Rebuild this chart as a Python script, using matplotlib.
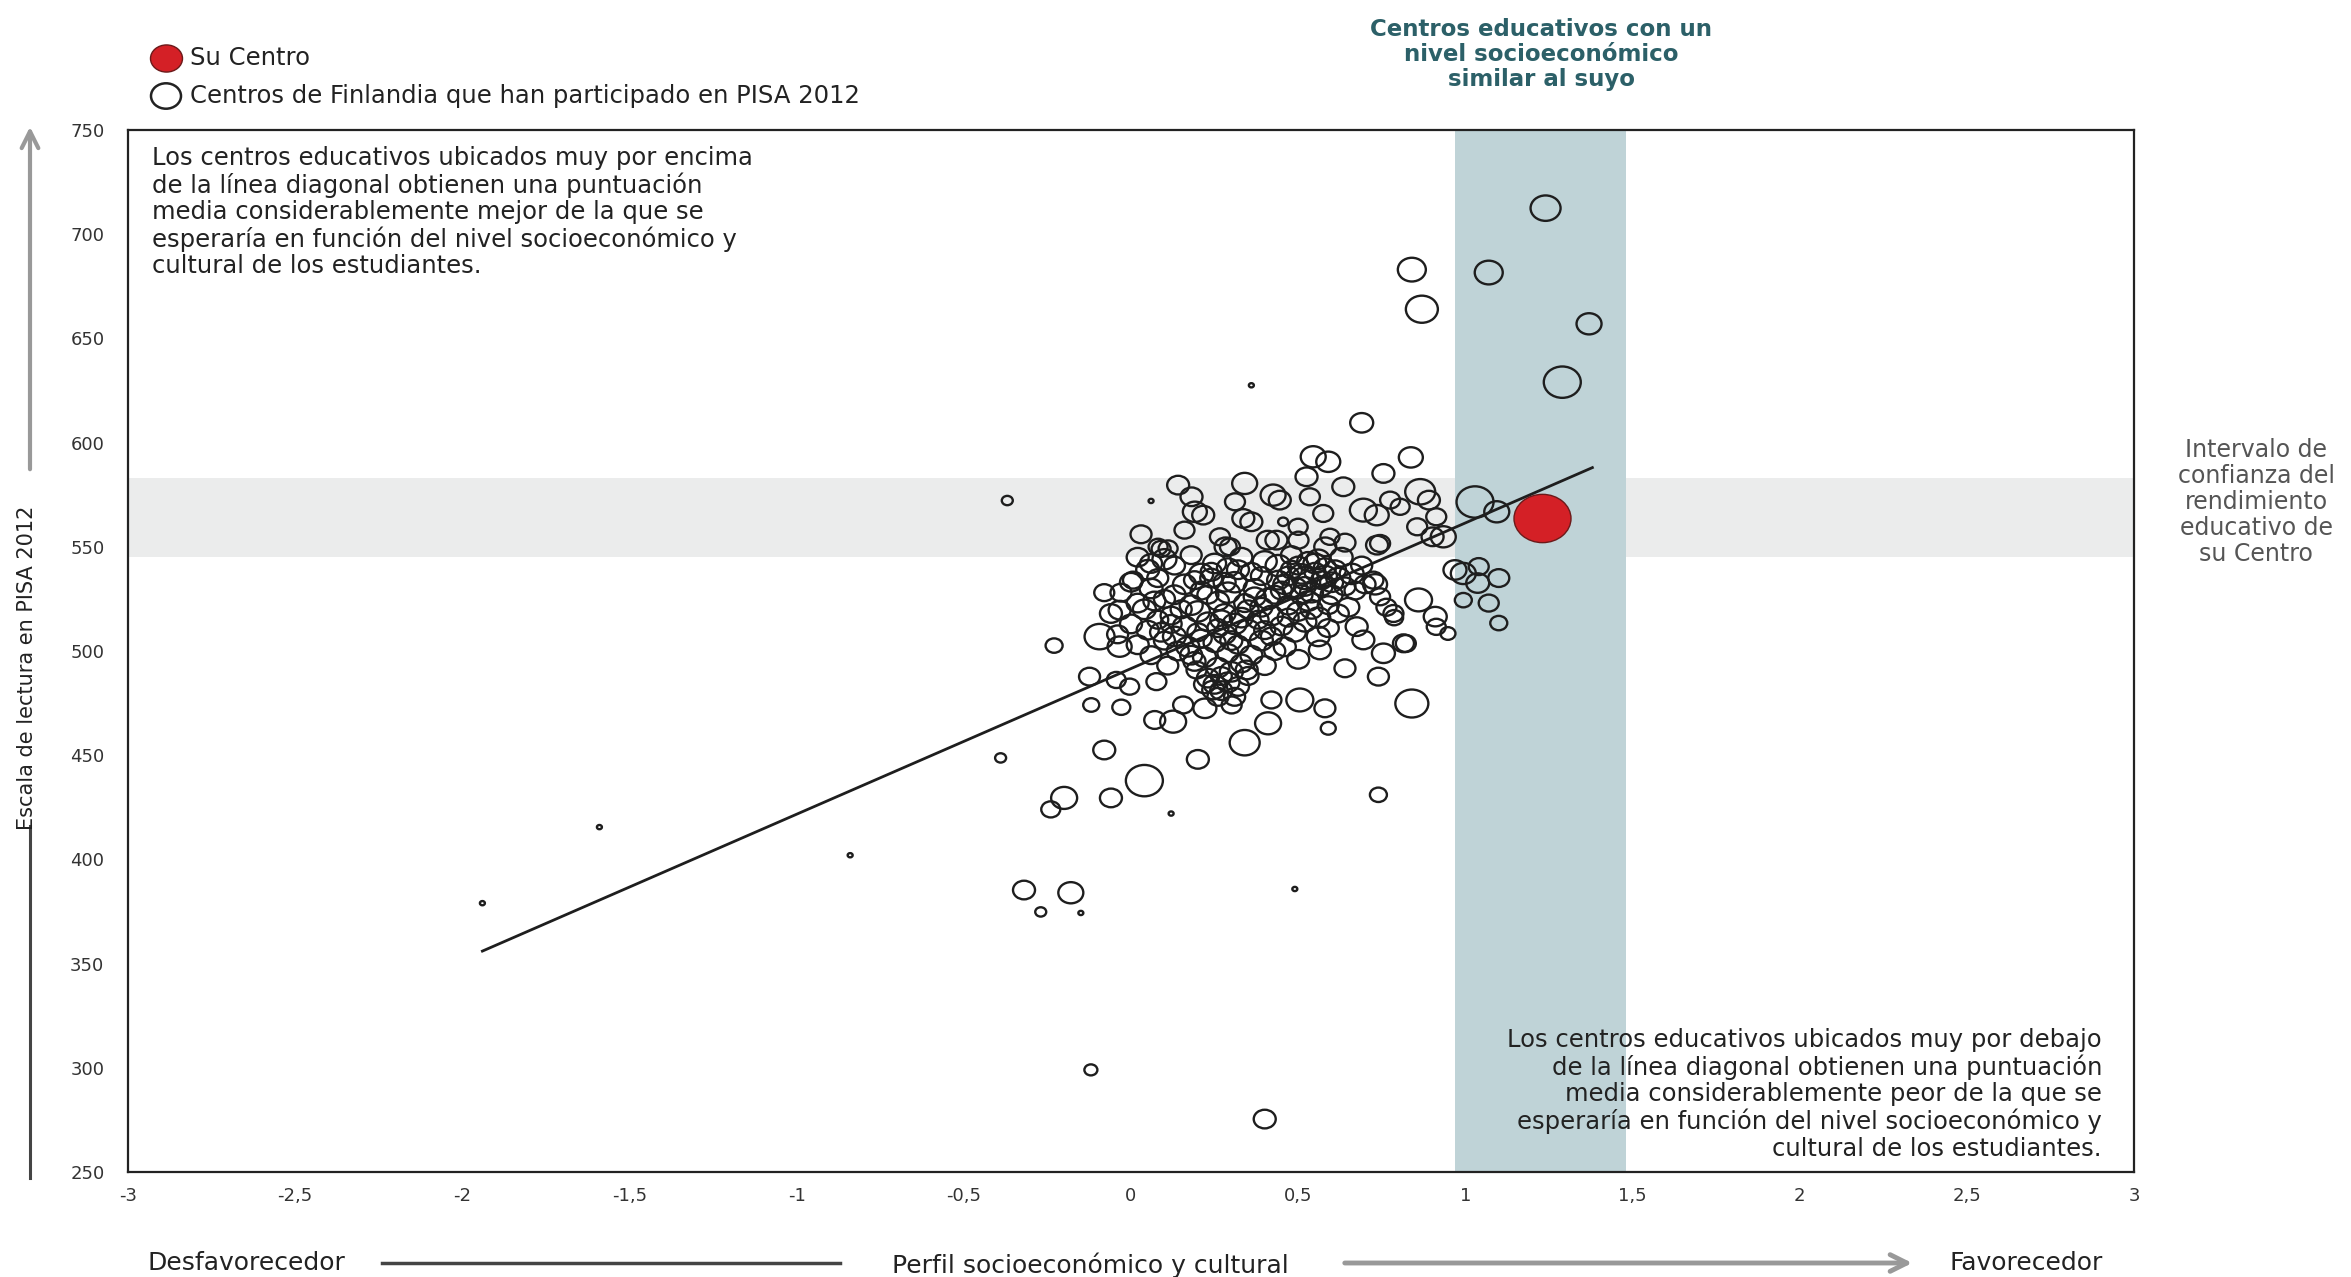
import numpy as np
import matplotlib
matplotlib.use('Agg')
import matplotlib.pyplot as plt
from matplotlib.path import Path
from matplotlib.transforms import Affine2D

# ---- datos (x = perfil socioeconomico, y = lectura, d = peso del centro) ----
su_centro = (1.23, 564, 57)
intervalo = (545, 583)          # intervalo de confianza de su centro
banda_ses = (0.97, 1.48)        # centros con nivel socioeconomico similar
linea_x = [-1.94, 1.38]
linea_y = [356, 588]

x_ticks = [-3, -2.5, -2, -1.5, -1, -0.5, 0, 0.5, 1, 1.5, 2, 2.5, 3]
x_etiquetas = ['-3', '-2,5', '-2', '-1,5', '-1', '-0,5', '0', '0,5', '1', '1,5', '2', '2,5', '3']
y_ticks = [250, 300, 350, 400, 450, 500, 550, 600, 650, 700, 750]

# centros aislados
atipicos = [
    (-1.94, 379, 5), (-1.59, 415.5, 5), (-0.84, 402, 5), (0.06, 572, 5), (0.12, 422, 5),
    (-0.15, 374.3, 5), (0.49, 385.8, 5), (0.36, 627.5, 5),
    (-0.37, 572.2, 11), (-0.39, 448.7, 11), (-0.27, 374.8, 11), (-0.12, 299, 13),
    (-0.23, 502.6, 17), (-0.32, 385.3, 22), (-0.18, 384, 25), (0.40, 275.4, 22),
    (-0.20, 429.5, 26), (-0.24, 424, 19), (-0.06, 429.5, 22), (0.04, 437.8, 37),
    (-0.08, 452.5, 22), (0.20, 448, 22), (0.34, 456, 30), (0.74, 431, 17),
    (0.84, 474.8, 33), (0.69, 609.5, 23),
]
superiores = [
    (1.24, 712.5, 30), (0.84, 683, 28), (1.07, 681.6, 28), (0.87, 664, 32),
    (1.37, 657, 25), (1.29, 629, 37),
]
# borde de la nube
borde = [
    (0.141, 579.6, 22), (0.181, 574, 22), (0.191, 566.8, 24), (0.216, 565.2, 22),
    (0.34, 580.4, 25), (0.311, 571.6, 20), (0.336, 563.6, 22), (0.36, 562, 22),
    (0.425, 574.8, 25), (0.445, 572.4, 22), (0.455, 562, 10),
    (0.545, 593.2, 25), (0.59, 590.8, 24), (0.525, 583.6, 22), (0.635, 578.8, 22),
    (0.535, 574, 20), (0.575, 566, 20), (0.5, 559.6, 19), (0.595, 554.8, 19), (0.435, 553.2, 22),
    (0.755, 585.2, 22), (0.695, 567.6, 27), (0.735, 565.2, 24), (0.775, 572.4, 20),
    (0.805, 569.2, 19), (0.837, 592.9, 24),
    (0.745, 551.6, 20), (0.266, 554.8, 20), (0.296, 550, 20), (0.081, 550, 19), (0.111, 549.2, 19),
    (0.09, 549, 19), (0.006, 534, 20), (-0.034, 519.6, 22), (0.725, 534, 20), (0.745, 526, 20),
    (0.785, 518, 20),
    (0.865, 576.4, 30), (0.891, 572.4, 22), (0.913, 564.4, 20), (1.029, 571.5, 37),
    (1.094, 566.8, 25), (0.856, 559.6, 20), (0.902, 554.8, 22), (0.934, 554.8, 25),
    (0.736, 550.8, 22), (0.581, 550, 22), (0.501, 553.2, 20), (0.409, 553.2, 22), (0.283, 550, 22),
    (0.73, 532, 24), (0.764, 521, 20), (0.787, 516, 18), (0.86, 524.5, 27), (0.91, 516.5, 23),
    (0.913, 511.6, 19), (0.948, 508.4, 15), (0.969, 538.9, 23), (0.994, 537.2, 25),
    (1.037, 532.6, 23), (1.04, 540.5, 20), (1.10, 535, 21), (1.07, 523, 20),
    (1.10, 513.4, 17), (0.994, 524.4, 17), (0.822, 503.6, 20),
    (-0.094, 506.9, 30), (-0.034, 502.1, 24), (-0.124, 487.7, 21), (-0.044, 486.1, 19),
    (-0.004, 482.9, 19), (0.076, 485.3, 20), (-0.119, 474.1, 16), (-0.029, 473, 18),
    (0.071, 466.9, 21), (0.126, 466.1, 26), (0.156, 474.1, 20), (0.221, 472.5, 23),
    (0.301, 474.1, 20), (0.246, 481.3, 22), (0.196, 490.9, 20), (0.346, 490.9, 22),
    (0.42, 476.5, 20), (0.41, 465.3, 26), (0.505, 476.5, 27), (0.58, 472.5, 21),
    (0.59, 462.9, 15), (0.565, 500.5, 22), (0.64, 491.7, 21), (0.755, 498.9, 23),
    (0.74, 487.7, 21), (0.815, 503.7, 21), (0.675, 511.7, 22), (0.695, 505.3, 22),
    (0.03, 556, 21), (0.16, 558, 20), (0.06, 542, 22), (-0.08, 528, 20), (0.64, 552, 21),
]
# nucleo denso
nucleo = [
    (0.02, 545, 22), (0.10, 544, 24), (0.18, 546, 21), (0.25, 542, 23), (0.33, 545, 22),
    (0.40, 543, 24), (0.48, 546, 21), (0.55, 542, 23), (0.63, 545, 22), (0.69, 541, 21),
    (0.05, 539, 23), (0.13, 541, 21), (0.21, 537, 24), (0.29, 540, 22), (0.36, 538, 21),
    (0.44, 541, 25), (0.51, 537, 23), (0.58, 540, 22), (0.66, 537, 24),
    (0.00, 533, 22), (0.08, 535, 21), (0.16, 532, 23), (0.24, 535, 22), (0.31, 533, 24),
    (0.39, 536, 21), (0.46, 532, 23), (0.52, 535, 26), (0.57, 531, 22), (0.62, 535, 24), (0.70, 532, 21),
    (-0.03, 528, 21), (0.06, 530, 23), (0.13, 527, 22), (0.21, 529, 21), (0.29, 528, 24),
    (0.37, 530, 22), (0.43, 527, 21), (0.49, 530, 25), (0.54, 528, 23), (0.60, 527, 22), (0.67, 529, 21),
    (0.02, 523, 22), (0.10, 525, 21), (0.18, 522, 23), (0.26, 524, 22), (0.34, 523, 21),
    (0.41, 525, 24), (0.47, 522, 22), (0.53, 524, 23), (0.59, 522, 21), (0.65, 521, 22),
    (-0.06, 518, 22), (0.04, 520, 23), (0.12, 517, 21), (0.20, 519, 24), (0.28, 518, 22),
    (0.35, 520, 21), (0.42, 517, 23), (0.50, 519, 22), (0.56, 516, 24), (0.62, 518, 21),
    (0.00, 513, 22), (0.08, 515, 21), (0.16, 512, 23), (0.23, 514, 22), (0.31, 513, 24),
    (0.38, 515, 21), (0.45, 512, 22), (0.52, 514, 23), (0.59, 511, 21),
    (-0.04, 508, 21), (0.05, 510, 22), (0.13, 507, 23), (0.20, 509, 21), (0.28, 508, 22),
    (0.35, 510, 24), (0.42, 507, 21), (0.49, 509, 22), (0.56, 507, 23),
    (0.02, 503, 22), (0.10, 505, 21), (0.17, 502, 23), (0.25, 504, 22), (0.32, 503, 21),
    (0.39, 505, 23), (0.46, 502, 22),
    (0.06, 498, 21), (0.14, 500, 22), (0.22, 497, 23), (0.29, 499, 21), (0.36, 498, 22),
    (0.43, 500, 21), (0.50, 496, 22),
    (0.11, 493, 21), (0.19, 495, 22), (0.26, 492, 23), (0.33, 494, 21), (0.40, 493, 22),
    (0.23, 487, 22), (0.29, 485, 23), (0.35, 488, 21), (0.27, 481, 22), (0.31, 478, 21),
    (0.47, 536, 22), (0.55, 538, 21), (0.60, 533, 23), (0.52, 531, 22), (0.58, 536, 24),
    (0.25, 484, 22), (0.30, 490, 23), (0.27, 488, 21),
    (0.44, 534, 22), (0.56, 544, 23), (0.50, 541, 21), (0.37, 526, 22), (0.15, 520, 21),
    (0.09, 509, 22), (0.33, 516, 23), (0.26, 511, 21),
    # zonas mas oscuras
    (0.48, 539, 21), (0.53, 543, 22), (0.57, 534, 21), (0.61, 539, 22), (0.45, 529, 21),
    (0.51, 527, 22), (0.64, 531, 21), (0.54, 520, 22), (0.47, 516, 21), (0.39, 521, 22),
    (0.24, 538, 21), (0.28, 533, 22), (0.19, 534, 21), (0.32, 539, 22), (0.23, 527, 21),
    (0.27, 515, 22), (0.21, 506, 21), (0.30, 505, 22), (0.12, 513, 21), (0.07, 524, 22),
    (0.22, 484, 21), (0.32, 483, 22), (0.26, 478, 21), (0.18, 498, 22), (0.40, 510, 21),
]

W, H = 2351, 1277
fig = plt.figure(figsize=(W / 100, H / 100), dpi=100)
ax = fig.add_axes([128 / W, 1 - 1172 / H, (2134 - 128) / W, (1172 - 130) / H])

# circulos algo achatados, como en el original
ovalo = Affine2D().scale(1.18, 1.0).transform_path(Path.unit_circle())


def talla(d):
    return (np.asarray(d, dtype=float) * 0.72) ** 2


ax.axhspan(intervalo[0], intervalo[1], color='#ebecec', lw=0, zorder=0)
ax.axvspan(banda_ses[0], banda_ses[1], color='#bfd3d7', lw=0, zorder=1)

centros = np.array(atipicos + superiores + borde + nucleo)
ax.scatter(centros[:, 0], centros[:, 1], s=talla(centros[:, 2]), marker=ovalo,
           facecolors='none', edgecolors='#1e1e1e', linewidths=1.7, zorder=2)
ax.plot(linea_x, linea_y, color='#1e1e1e', lw=2, zorder=3)
ax.scatter([su_centro[0]], [su_centro[1]], s=talla(su_centro[2]), marker=ovalo,
           color='#d42026', edgecolors='#6b1a1a', linewidths=1, zorder=4)

ax.set_xlim(-3, 3)
ax.set_ylim(250, 750)
ax.set_xticks(x_ticks)
ax.set_xticklabels(x_etiquetas)
ax.set_yticks(y_ticks)
ax.tick_params(axis='both', length=0, labelsize=13, colors='#333333')
ax.tick_params(axis='y', pad=17)
ax.tick_params(axis='x', pad=11)
for sp in ax.spines.values():
    sp.set_linewidth(1.6)
    sp.set_color('#222222')

ax.text(0.012, 0.985,
        'Los centros educativos ubicados muy por encima\nde la línea diagonal obtienen una puntuación\n'
        'media considerablemente mejor de la que se\nesperaría en función del nivel socioeconómico y\n'
        'cultural de los estudiantes.',
        transform=ax.transAxes, ha='left', va='top', fontsize=17.5, color='#222222', linespacing=1.12)
ax.text(0.984, 0.138,
        'Los centros educativos ubicados muy por debajo\nde la línea diagonal obtienen una puntuación\n'
        'media considerablemente peor de la que se\nesperaría en función del nivel socioeconómico y\n'
        'cultural de los estudiantes.',
        transform=ax.transAxes, ha='right', va='top', fontsize=17.5, color='#222222',
        linespacing=1.12, multialignment='right', zorder=5)

# capa en pixeles para leyenda, rotulos y flechas exteriores
ov = fig.add_axes([0, 0, 1, 1])
ov.set_xlim(0, W)
ov.set_ylim(H, 0)
ov.axis('off')
ov.patch.set_alpha(0)

ov.scatter([166], [58], s=talla(32), marker=ovalo, color='#d42026', edgecolors='#6b1a1a', linewidths=1)
ov.scatter([166], [96], s=talla(30), marker=ovalo, facecolors='none', edgecolors='#222222', linewidths=1.8)
ov.text(190, 58, 'Su Centro', ha='left', va='center', fontsize=17.5, color='#222222')
ov.text(190, 96, 'Centros de Finlandia que han participado en PISA 2012', ha='left', va='center',
        fontsize=17.5, color='#222222')

ov.text(1541, 18, 'Centros educativos con un\nnivel socioeconómico\nsimilar al suyo',
        ha='center', va='top', fontsize=16.5, fontweight='bold', color='#2c6068', linespacing=1.1)
ov.text(2256, 438, 'Intervalo de\nconfianza del\nrendimiento\neducativo de\nsu Centro',
        ha='center', va='top', fontsize=17, color='#555555', linespacing=1.1)

ov.text(27, 668, 'Escala de lectura en PISA 2012', rotation=90, ha='center', va='center',
        fontsize=15, color='#222222')
ov.annotate('', xy=(30, 124), xytext=(30, 472),
            arrowprops=dict(arrowstyle='->', color='#999999', lw=3, mutation_scale=30))
ov.plot([30, 30], [826, 1178], color='#444444', lw=2.2)

ov.text(147, 1263, 'Desfavorecedor', ha='left', va='center', fontsize=18, color='#222222')
ov.plot([382, 840], [1263, 1263], color='#444444', lw=2.5)
ov.text(1090, 1265, 'Perfil socioeconómico y cultural', ha='center', va='center', fontsize=18,
        color='#222222')
ov.annotate('', xy=(1915, 1263), xytext=(1342, 1263),
            arrowprops=dict(arrowstyle='->', color='#999999', lw=3.5, mutation_scale=30))
ov.text(1950, 1263, 'Favorecedor', ha='left', va='center', fontsize=18, color='#222222')

fig.savefig('out.png', dpi=100)
